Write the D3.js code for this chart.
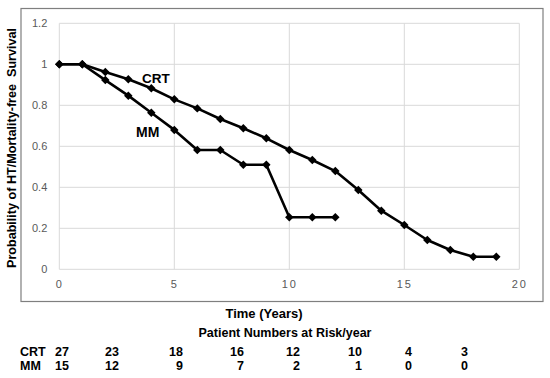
<!DOCTYPE html>
<html>
<head>
<meta charset="utf-8">
<script src="https://cdn.jsdelivr.net/npm/d3@7"></script>
<style>
  body { margin: 0; background: #fff; }
  text { font-family: "Liberation Sans", Arial, sans-serif; }
</style>
</head>
<body>
<div id="chart"></div>
<script>
// survival estimates per year
var crtYears = [0, 1, 2, 3, 4, 5, 6, 7, 8, 9, 10, 11, 12, 13, 14, 15, 16, 17, 18, 19];
var crtSurv = [1, 1, 0.962, 0.927, 0.883, 0.829, 0.785, 0.733, 0.688, 0.639, 0.582, 0.533, 0.479, 0.387, 0.286, 0.216, 0.143, 0.094, 0.061, 0.061];
var mmYears = [0, 1, 2, 3, 4, 5, 6, 7, 8, 9, 10, 11, 12];
var mmSurv = [1, 1, 0.923, 0.847, 0.764, 0.68, 0.582, 0.582, 0.51, 0.51, 0.254, 0.254, 0.254];

var xTicks = [0, 5, 10, 15, 20];
var yTicks = [0, 0.2, 0.4, 0.6, 0.8, 1, 1.2];

// patients at risk table
var riskGroups = ["CRT", "MM"];
var crtRisk = [27, 23, 18, 16, 12, 10, 4, 3];
var mmRisk = [15, 12, 9, 7, 2, 1, 0, 0];

(function() {
  var width = 550,
    height = 378;

  var svg = d3.select("#chart")
    .append("svg")
    .attr("width", width)
    .attr("height", height);

  var plot = { left: 59.3, right: 519.3, top: 23.3, bottom: 269.3 };

  var x = d3.scaleLinear().domain([0, 20]).range([plot.left, plot.right]);
  var y = d3.scaleLinear().domain([0, 1.2]).range([plot.bottom, plot.top]);

  // outer frame
  svg.append("rect")
    .attr("x", 21)
    .attr("y", 8.5)
    .attr("width", 522)
    .attr("height", 293)
    .attr("fill", "none")
    .attr("stroke", "#7f7f7f")
    .attr("stroke-width", 1.2);

  // gridlines
  svg.append("g")
    .selectAll("line")
    .data(yTicks)
    .enter().append("line")
    .attr("x1", plot.left)
    .attr("x2", plot.right)
    .attr("y1", function(d) { return y(d); })
    .attr("y2", function(d) { return y(d); })
    .attr("stroke", "#d9d9d9")
    .attr("stroke-width", 1);

  svg.append("g")
    .selectAll("line")
    .data(xTicks)
    .enter().append("line")
    .attr("x1", function(d) { return x(d); })
    .attr("x2", function(d) { return x(d); })
    .attr("y1", plot.top)
    .attr("y2", plot.bottom)
    .attr("stroke", "#d9d9d9")
    .attr("stroke-width", 1);

  // axes, labels only
  var yAxis = svg.append("g")
    .attr("transform", "translate(" + (plot.left - 4) + ",0)")
    .call(d3.axisLeft(y).tickValues(yTicks).tickSize(0).tickPadding(8)
      .tickFormat(function(d) { return String(+d.toFixed(1)); }));
  yAxis.select(".domain").remove();
  yAxis.selectAll("text")
    .attr("fill", "#595959")
    .style("font-size", "11px");

  var xAxis = svg.append("g")
    .attr("transform", "translate(0," + plot.bottom + ")")
    .call(d3.axisBottom(x).tickValues(xTicks).tickSize(0).tickPadding(11));
  xAxis.select(".domain").remove();
  xAxis.selectAll("text")
    .attr("fill", "#595959")
    .style("font-size", "11px")
    .style("letter-spacing", "2px");

  // axis titles
  svg.append("text")
    .attr("transform", "translate(16,148) rotate(-90)")
    .attr("text-anchor", "middle")
    .style("font-size", "12.6px")
    .style("font-weight", "bold")
    .style("white-space", "pre")
    .text("Probability of HT/Mortality-free  Survival");

  svg.append("text")
    .attr("x", 264)
    .attr("y", 318)
    .attr("text-anchor", "middle")
    .style("font-size", "13px")
    .style("font-weight", "bold")
    .text("Time (Years)");

  svg.append("text")
    .attr("x", 285)
    .attr("y", 336.5)
    .attr("text-anchor", "middle")
    .style("font-size", "12.5px")
    .style("font-weight", "bold")
    .text("Patient Numbers at Risk/year");

  // survival curves
  var line = d3.line()
    .x(function(d) { return x(d[0]); })
    .y(function(d) { return y(d[1]); });

  var diamond = d3.symbol().type(d3.symbolSquare).size(36);

  function drawSeries(years, surv) {
    var pts = years.map(function(t, i) { return [t, surv[i]]; });
    svg.append("path")
      .datum(pts)
      .attr("d", line)
      .attr("fill", "none")
      .attr("stroke", "#000")
      .attr("stroke-width", 2.6)
      .attr("stroke-linejoin", "round");
    svg.append("g")
      .selectAll("path")
      .data(pts)
      .enter().append("path")
      .attr("d", diamond)
      .attr("transform", function(d) {
        return "translate(" + x(d[0]) + "," + y(d[1]) + ") rotate(45)";
      })
      .attr("fill", "#000");
  }

  drawSeries(crtYears, crtSurv);
  drawSeries(mmYears, mmSurv);

  // series labels
  svg.append("text")
    .attr("x", 142)
    .attr("y", 82.5)
    .style("font-size", "13.5px")
    .style("font-weight", "bold")
    .text("CRT");

  svg.append("text")
    .attr("x", 136)
    .attr("y", 136.5)
    .style("font-size", "14px")
    .style("font-weight", "bold")
    .text("MM");

  // at-risk table
  var colRight = [69, 119, 183, 244, 300, 362, 412, 468];
  var rowY = [356, 370];
  var rows = [crtRisk, mmRisk];

  riskGroups.forEach(function(g, r) {
    svg.append("text")
      .attr("x", 20)
      .attr("y", rowY[r])
      .style("font-size", "12.5px")
      .style("font-weight", "bold")
      .text(g);

    svg.append("g")
      .selectAll("text")
      .data(rows[r])
      .enter().append("text")
      .attr("x", function(d, i) { return colRight[i]; })
      .attr("y", rowY[r])
      .attr("text-anchor", "end")
      .style("font-size", "12.5px")
      .style("font-weight", "bold")
      .text(function(d) { return d; });
  });

})();
</script>
</body>
</html>
